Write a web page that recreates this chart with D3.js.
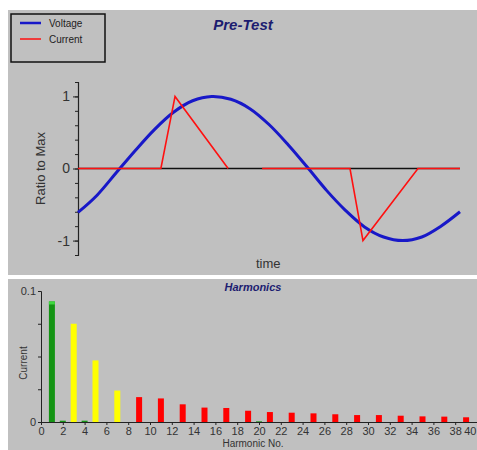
<!DOCTYPE html>
<html>
<head>
<meta charset="utf-8">
<script src="https://cdn.jsdelivr.net/npm/d3@7"></script>
<style>
  body { margin: 0; background: #fff; }
  svg { display: block; font-family: "Liberation Sans", Arial, sans-serif; }
</style>
</head>
<body>
<div id="chart"></div>
<script>
// Voltage, sampled every 5 time units (ratio to max)
const voltageTime = [0, 5, 10, 15, 20, 25, 30, 35, 40, 45, 50, 55, 60, 65, 70, 75, 80, 85, 90, 95, 100]
const voltageValues = [-0.61, -0.37, -0.06, 0.25, 0.54, 0.78, 0.94, 1.0, 0.96, 0.83, 0.61, 0.33, 0.02, -0.3, -0.58, -0.81, -0.95, -1.0, -0.95, -0.8, -0.6]

// Current, piecewise (null = no sample)
const currentTime = [0, 21.7, 25.4, 39.3, 39.4, 48.2, 71.2, 74.6, 89, 100]
const currentValues = [0, 0, 1, 0, null, 0, 0, -1, 0, 0]

// Harmonic spectrum
const harmonics = [1, 2, 3, 4, 5, 7, 9, 11, 13, 15, 17, 19, 20, 21, 23, 25, 27, 29, 31, 33, 35, 37, 39]
const harmonicCurrent = [0.092, 0.001, 0.075, 0.001, 0.047, 0.024, 0.019, 0.018, 0.0135, 0.011, 0.0107, 0.0086, 0.0005, 0.0076, 0.0071, 0.0066, 0.0059, 0.0053, 0.0053, 0.0048, 0.0043, 0.0041, 0.0036]

const W = 477, H = 450
const svg = d3.select('#chart').append('svg')
    .attr('width', W)
    .attr('height', H)

// Panels.
svg.append('rect').attr('x', 8).attr('y', 10).attr('width', W - 8).attr('height', 265).attr('fill', '#c0c0c0')
svg.append('rect').attr('x', 8).attr('y', 279).attr('width', W - 8).attr('height', H - 279).attr('fill', '#c0c0c0')

// ---- Top chart ----
const x = d3.scaleLinear().domain([0, 100]).range([78, 460])
const y = d3.scaleLinear().domain([-1.2, 1.2]).range([255, 82])

svg.append('text')
    .attr('x', 243).attr('y', 30)
    .attr('text-anchor', 'middle')
    .style('font-size', '15px').style('font-weight', 'bold').style('font-style', 'italic')
    .attr('fill', '#1c1c70')
    .text('Pre-Test')

// zero line
svg.append('line')
    .attr('x1', x(0)).attr('x2', x(100))
    .attr('y1', y(0)).attr('y2', y(0))
    .attr('stroke', '#111').attr('stroke-width', 1.5)

// y axis
const yAxis = svg.append('g')
    .attr('transform', `translate(${x(0)},0)`)
    .call(d3.axisLeft(y).tickValues(d3.range(-1.2, 1.21, 0.2).map(v => +v.toFixed(1)))
        .tickSize(3).tickFormat(''))
yAxis.select('.domain').attr('stroke', '#222').attr('stroke-width', 1.2)
yAxis.selectAll('.tick line').attr('stroke', '#222')

const yMajor = svg.append('g')
    .attr('transform', `translate(${x(0)},0)`)
    .call(d3.axisLeft(y).tickValues([-1, 0, 1]).tickSize(5).tickPadding(3).tickFormat(d => String(d)))
yMajor.select('.domain').remove()
yMajor.selectAll('.tick line').attr('stroke', '#222')
yMajor.selectAll('.tick text')
    .style('font-size', '14px').style('font-family', '"Liberation Sans", Arial, sans-serif')
    .attr('fill', '#333')

svg.append('text')
    .attr('transform', `translate(45,${y(0)}) rotate(-90)`)
    .attr('text-anchor', 'middle')
    .style('font-size', '13px').attr('fill', '#333')
    .text('Ratio to Max')

svg.append('text')
    .attr('x', 256).attr('y', 268)
    .style('font-size', '13px').attr('fill', '#333')
    .text('time')

const voltageLine = d3.line()
    .x((d, i) => x(voltageTime[i]))
    .y(d => y(d))
    .curve(d3.curveCatmullRom)

svg.append('path')
    .datum(voltageValues)
    .attr('d', voltageLine)
    .attr('fill', 'none')
    .attr('stroke', '#1818c8')
    .attr('stroke-width', 3)

const currentLine = d3.line()
    .defined(d => d !== null)
    .x((d, i) => x(currentTime[i]))
    .y(d => y(d))

svg.append('path')
    .datum(currentValues)
    .attr('d', currentLine)
    .attr('fill', 'none')
    .attr('stroke', '#ff1010')
    .attr('stroke-width', 1.6)

// legend
const legend = svg.append('g')
legend.append('rect')
    .attr('x', 11).attr('y', 14).attr('width', 94).attr('height', 48)
    .attr('fill', 'none').attr('stroke', '#111').attr('stroke-width', 1.5)
const legendItems = [{ name: 'Voltage', color: '#1818c8', w: 2.5 }, { name: 'Current', color: '#ff1010', w: 1.5 }]
legendItems.forEach((d, i) => {
    const ly = 23 + i * 16
    legend.append('line')
        .attr('x1', 20).attr('x2', 41).attr('y1', ly).attr('y2', ly)
        .attr('stroke', d.color).attr('stroke-width', d.w)
    legend.append('text')
        .attr('x', 49).attr('y', ly + 4)
        .style('font-size', '10px').attr('fill', '#222')
        .text(d.name)
})

// ---- Bottom chart ----
const hx = d3.scaleLinear().domain([0, 40]).range([41, 477])
const hy = d3.scaleLinear().domain([0, 0.1]).range([422, 291])

svg.append('text')
    .attr('x', 253).attr('y', 291)
    .attr('text-anchor', 'middle')
    .style('font-size', '11px').style('font-weight', 'bold').style('font-style', 'italic')
    .attr('fill', '#1c1c70')
    .text('Harmonics')

const barColor = n => (n === 1 || n % 2 === 0) ? '#149414' : (n <= 7 ? '#ffff00' : '#ff0000')
const barW = 6

svg.selectAll('.bar')
    .data(harmonics)
    .enter()
    .append('rect')
    .attr('class', 'bar')
    .attr('x', d => hx(d) - barW / 2)
    .attr('y', (d, i) => hy(harmonicCurrent[i]))
    .attr('width', barW)
    .attr('height', (d, i) => hy(0) - hy(harmonicCurrent[i]))
    .attr('fill', d => barColor(d))

// light cap on fundamental
svg.append('rect')
    .attr('x', hx(1) - barW / 2).attr('y', hy(harmonicCurrent[0]))
    .attr('width', barW).attr('height', 3)
    .attr('fill', '#3fd83f')

const hxAxis = svg.append('g')
    .attr('transform', `translate(0,${hy(0)})`)
    .call(d3.axisBottom(hx).tickValues(d3.range(0, 41, 2)).tickSize(3).tickPadding(2))
hxAxis.select('.domain').attr('stroke', '#222')
hxAxis.selectAll('.tick line').attr('stroke', '#222')
hxAxis.selectAll('.tick text')
    .style('font-size', '11px').style('font-family', '"Liberation Sans", Arial, sans-serif')
    .attr('fill', '#333')
// keep the last label inside the frame
hxAxis.selectAll('.tick text').filter(d => d === 40).attr('text-anchor', 'end').attr('dx', -1)

const hyAxis = svg.append('g')
    .attr('transform', `translate(${hx(0)},0)`)
    .call(d3.axisLeft(hy).tickValues([0, 0.025, 0.05, 0.075, 0.1]).tickSize(3).tickPadding(2)
        .tickFormat(d => (d === 0 ? '0' : d === 0.1 ? '0.1' : '')))
hyAxis.select('.domain').attr('stroke', '#222')
hyAxis.selectAll('.tick line').attr('stroke', '#222')
hyAxis.selectAll('.tick text')
    .style('font-size', '11px').style('font-family', '"Liberation Sans", Arial, sans-serif')
    .attr('fill', '#333')

svg.append('text')
    .attr('transform', `translate(27,363) rotate(-90)`)
    .attr('text-anchor', 'middle')
    .style('font-size', '10px').attr('fill', '#333')
    .text('Current')

svg.append('text')
    .attr('x', 253).attr('y', 447)
    .attr('text-anchor', 'middle')
    .style('font-size', '10px').attr('fill', '#333')
    .text('Harmonic No.')
</script>
</body>
</html>
